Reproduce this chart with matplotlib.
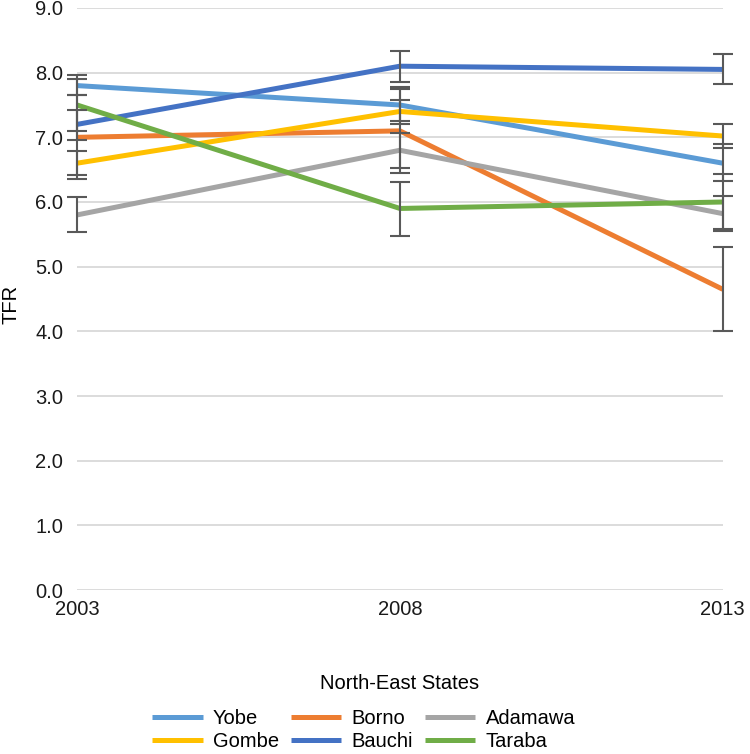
import matplotlib
matplotlib.use("Agg")
import matplotlib.pyplot as plt

plt.rcParams['font.family'] = ['Liberation Sans', 'DejaVu Sans']

years = [2003, 2008, 2013]
states = ["Yobe", "Borno", "Adamawa", "Gombe", "Bauchi", "Taraba"]
colors = ["#5B9BD5", "#ED7D31", "#A5A5A5", "#FFC000", "#4472C4", "#70AD47"]

yobe = [7.8, 7.5, 6.6]
borno = [7.0, 7.1, 4.65]
adamawa = [5.8, 6.8, 5.82]
gombe = [6.6, 7.4, 7.02]
bauchi = [7.2, 8.1, 8.05]
taraba = [7.5, 5.9, 6.0]

# confidence interval bounds (upper, lower)
yobe_ci = ([7.96, 7.74, 6.90], [7.65, 7.26, 6.33])
borno_ci = ([7.65, 7.78, 5.31], [6.35, 6.45, 4.01])
adamawa_ci = ([6.07, 7.07, 6.09], [5.53, 6.53, 5.55])
gombe_ci = ([6.79, 7.58, 7.20], [6.41, 7.21, 6.84])
bauchi_ci = ([7.43, 8.33, 8.29], [6.96, 7.86, 7.82])
taraba_ci = ([7.90, 6.31, 6.43], [7.10, 5.48, 5.58])

series = [yobe, borno, adamawa, gombe, bauchi, taraba]
cis = [yobe_ci, borno_ci, adamawa_ci, gombe_ci, bauchi_ci, taraba_ci]

fig = plt.figure(figsize=(7.5, 7.54), dpi=100)
ax = fig.add_axes([0.1027, 0.2175, 0.861, 0.7719])

handles = []
for name, vals, ci, c in zip(states, series, cis, colors):
    h, = ax.plot(years, vals, color=c, lw=3.6, label=name, zorder=3, solid_capstyle='butt')
    handles.append(h)
    up, lo = ci
    yerr = [[v - l for v, l in zip(vals, lo)], [u - v for v, u in zip(vals, up)]]
    ax.errorbar(years, vals, yerr=yerr, fmt='none', ecolor='#595959', elinewidth=1.5,
                capsize=7, capthick=1.5, zorder=4, clip_on=False)

ax.set_xlim(2003, 2013)
ax.set_ylim(0, 9)
ax.set_yticks([i for i in range(10)])
ax.set_yticklabels([f"{i:.1f}" for i in range(10)])
ax.set_xticks(years)
ax.set_xticklabels([str(y) for y in years])
ax.grid(axis='y', color='#D9D9D9', lw=1.3)
ax.set_axisbelow(True)
for s in ax.spines.values():
    s.set_visible(False)
ax.tick_params(axis='both', length=0, labelsize=14.5, colors='#1a1a1a')
ax.tick_params(axis='y', pad=10)
ax.tick_params(axis='x', pad=7)
ax.set_ylabel("TFR", fontsize=14.5)
ax.yaxis.set_label_coords(-0.088, 0.49)
ax.set_xlabel("North-East States", fontsize=14.5, labelpad=40)

order = [0, 3, 1, 4, 2, 5]
fig.legend([handles[i] for i in order], [states[i] for i in order], ncol=3,
           loc='upper center', bbox_to_anchor=(0.485, 0.06), frameon=False,
           borderaxespad=0, borderpad=0,
           fontsize=14.5, handlelength=2.5, columnspacing=0.6, handletextpad=0.5,
           labelspacing=0.2)

fig.savefig("out.png", dpi=100)
